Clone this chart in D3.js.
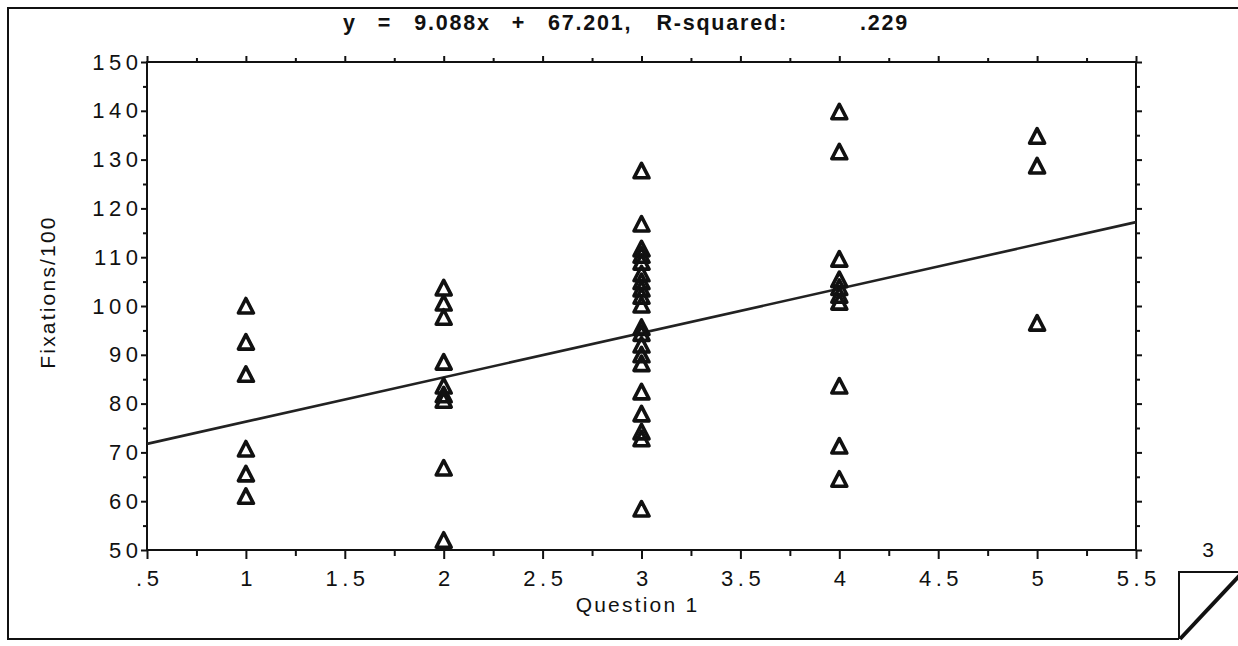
<!DOCTYPE html>
<html>
<head>
<meta charset="utf-8">
<script src="https://cdn.jsdelivr.net/npm/d3@7"></script>
<style>
  html, body { margin: 0; padding: 0; background: #fff; }
  svg { display: block; font-family: "Liberation Sans", Arial, Helvetica, sans-serif; }
</style>
</head>
<body>
<svg id="chart" width="1238" height="646"></svg>
<script>
// Fixations per 100 words, grouped by the answer given to Question 1
const q1Answers = [1, 2, 3, 4, 5];
const fixationsQ1 = [100, 92.6, 86, 70.7, 65.6, 61];
const fixationsQ2 = [103.7, 100.6, 97.7, 88.5, 83.6, 81.8, 80.7, 66.8, 52];
const fixationsQ3 = [127.7, 116.8, 111.7, 110.4, 109, 106.6, 105, 103.5, 102, 100.2,
                     95.6, 94.4, 92, 90, 88.2, 82.4, 77.9, 74.2, 72.8, 58.4];
const fixationsQ4 = [139.8, 131.6, 109.6, 105.4, 103.8, 102.2, 100.8, 83.6, 71.3, 64.5];
const fixationsQ5 = [134.8, 128.7, 96.5];
const fixationGroups = [fixationsQ1, fixationsQ2, fixationsQ3, fixationsQ4, fixationsQ5];

// Least-squares fit
const fitSlope = 9.088;
const fitIntercept = 67.201;
const fitRSquared = ".229";

// Axes
const xTickValues = [0.5, 1, 1.5, 2, 2.5, 3, 3.5, 4, 4.5, 5, 5.5];
const xTickLabels = [".5", "1", "1.5", "2", "2.5", "3", "3.5", "4", "4.5", "5", "5.5"];
const xMinorTicks = [0.75, 1.25, 1.75, 2.25, 2.75, 3.25, 3.75, 4.25, 4.75, 5.25];
const yTickValues = [50, 60, 70, 80, 90, 100, 110, 120, 130, 140, 150];
const yTickLabels = ["50", "60", "70", "80", "90", "100", "110", "120", "130", "140", "150"];
const yMinorTicks = [55, 65, 75, 85, 95, 105, 115, 125, 135, 145];
const xTitle = "Question 1";
const yTitle = "Fixations/100";
const pageNumber = "3";

const points = [];
fixationGroups.forEach((vals, i) => vals.forEach(v => points.push({ q: q1Answers[i], f: v })));

const svg = d3.select("#chart");
const plot = { left: 147, right: 1136, top: 62, bottom: 550 };
const ink = "#111";

const x = d3.scaleLinear().domain([0.5, 5.5]).range([plot.left, plot.right]);
const y = d3.scaleLinear().domain([50, 150]).range([plot.bottom, plot.top]);

// Page frame with folded corner
const frame = svg.append("g").attr("fill", "none").attr("stroke", ink);
frame.append("path").attr("stroke-width", 2)
  .attr("d", "M1240,8 H8 V639 H1179");
frame.append("path").attr("stroke-width", 2)
  .attr("d", "M1179,639 V572 H1240");
frame.append("path").attr("stroke-width", 4)
  .attr("d", "M1180,639 L1240,575");
svg.append("text")
  .attr("x", 1208).attr("y", 557)
  .attr("text-anchor", "middle")
  .attr("font-size", 21).attr("fill", ink)
  .text(pageNumber);

// Title: equation of the fit, tokens spread out
const titleTokens = ["y", "=", `${fitSlope}x`, "+", `${fitIntercept},`, "R-squared:", fitRSquared];
const titleGaps = [0, 21, 22, 21, 22, 24, 72];
const title = svg.append("text")
  .attr("x", 343).attr("y", 30)
  .attr("font-size", 21.5).attr("font-weight", "bold").attr("fill", ink)
  .attr("letter-spacing", 1.8);
title.selectAll("tspan").data(titleTokens).join("tspan")
  .attr("dx", (d, i) => titleGaps[i])
  .text(d => d);

// Axes
function styleAxis(g) {
  g.select(".domain").remove();
  g.selectAll(".tick line").attr("stroke", ink).attr("stroke-width", 2);
}

const labelFont = 22;
const spacing = 4.5;

// bottom: major + minor
svg.append("g").attr("transform", `translate(0,${plot.bottom})`)
  .call(d3.axisBottom(x).tickValues(xTickValues).tickSize(9).tickPadding(11)
    .tickFormat((d, i) => xTickLabels[i]))
  .call(styleAxis)
  .call(g => g.selectAll("text").attr("font-size", labelFont).attr("fill", ink)
    .attr("letter-spacing", spacing).attr("dx", spacing / 2)
    .attr("font-family", "\"Liberation Sans\", Arial, sans-serif"));
svg.append("g").attr("transform", `translate(0,${plot.bottom})`)
  .call(d3.axisBottom(x).tickValues(xMinorTicks).tickSize(6).tickFormat(""))
  .call(styleAxis);

// top
svg.append("g").attr("transform", `translate(0,${plot.top})`)
  .call(d3.axisTop(x).tickValues(xTickValues).tickSize(6).tickFormat(""))
  .call(styleAxis);
svg.append("g").attr("transform", `translate(0,${plot.top})`)
  .call(d3.axisTop(x).tickValues(xMinorTicks).tickSize(4).tickFormat(""))
  .call(styleAxis);

// left
svg.append("g").attr("transform", `translate(${plot.left},0)`)
  .call(d3.axisLeft(y).tickValues(yTickValues).tickSize(6).tickPadding(3)
    .tickFormat((d, i) => yTickLabels[i]))
  .call(styleAxis)
  .call(g => g.selectAll("text").attr("font-size", labelFont).attr("fill", ink)
    .attr("letter-spacing", spacing).attr("dx", spacing)
    .attr("font-family", "\"Liberation Sans\", Arial, sans-serif"));
svg.append("g").attr("transform", `translate(${plot.left},0)`)
  .call(d3.axisLeft(y).tickValues(yMinorTicks).tickSize(4).tickFormat(""))
  .call(styleAxis);

// right
svg.append("g").attr("transform", `translate(${plot.right},0)`)
  .call(d3.axisRight(y).tickValues(yTickValues).tickSize(6).tickFormat(""))
  .call(styleAxis);
svg.append("g").attr("transform", `translate(${plot.right},0)`)
  .call(d3.axisRight(y).tickValues(yMinorTicks).tickSize(4).tickFormat(""))
  .call(styleAxis);

// plot frame
svg.append("rect")
  .attr("x", plot.left).attr("y", plot.top)
  .attr("width", plot.right - plot.left).attr("height", plot.bottom - plot.top)
  .attr("fill", "none").attr("stroke", ink).attr("stroke-width", 2);

// Axis titles
svg.append("text")
  .attr("x", x(3) - 4).attr("y", 612)
  .attr("text-anchor", "middle").attr("font-size", 21).attr("fill", ink)
  .attr("letter-spacing", 2.2)
  .text(xTitle);
svg.append("text")
  .attr("transform", `translate(55,${(plot.top + plot.bottom) / 2 - 14}) rotate(-90)`)
  .attr("text-anchor", "middle").attr("font-size", 21).attr("fill", ink)
  .attr("letter-spacing", 2.2)
  .text(yTitle);

// Regression line
const fitLine = d3.line().x(d => x(d)).y(d => y(fitSlope * d + fitIntercept));
svg.append("path")
  .datum(x.domain())
  .attr("d", fitLine)
  .attr("fill", "none").attr("stroke", "#222").attr("stroke-width", 2.6);

// Open triangle markers
const tri = "M0,-7.5 L7.5,7 L-7.5,7 Z";
svg.append("g").selectAll("path.pt")
  .data(points).join("path")
  .attr("class", "pt")
  .attr("transform", d => `translate(${x(d.q)},${y(d.f)})`)
  .attr("d", tri)
  .attr("fill", "none").attr("stroke", ink)
  .attr("stroke-width", 3.6).attr("stroke-linejoin", "round");
</script>
</body>
</html>
